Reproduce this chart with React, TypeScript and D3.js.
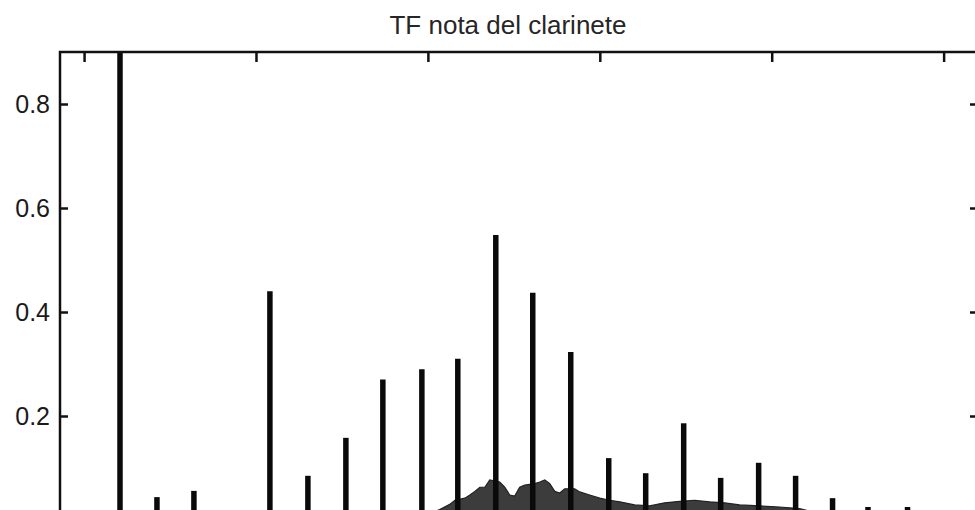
import React, { useRef, useEffect } from "react";
import * as d3 from "d3";

// peak frequencies (Hz) and magnitudes
const peakFreqs = [209, 424, 639, 1081, 1302, 1523, 1738, 1965, 2174, 2395, 2610, 2831, 3052, 3267, 3488, 3703, 3924, 4139, 4354, 4560, 4790, 5017];
const peakVals = [1.0, 0.044, 0.056, 0.44, 0.085, 0.158, 0.27, 0.29, 0.31, 0.548, 0.437, 0.323, 0.119, 0.09, 0.186, 0.081, 0.11, 0.085, 0.042, 0.025, 0.025, 0.014];

// noise floor between the harmonics
const noiseFreqs = [1900, 2000, 2069, 2127, 2157, 2215, 2244, 2273, 2302, 2331, 2360, 2418, 2447, 2476, 2505, 2534, 2563, 2622, 2651, 2680, 2709, 2738, 2767, 2796, 2854, 2883, 2941, 3000, 3058, 3116, 3203, 3290, 3377, 3465, 3552, 3639, 3726, 3814, 3930, 4046, 4162, 4279, 4395, 4500];
const noiseVals = [0.0, 0.012, 0.02, 0.03, 0.038, 0.042, 0.048, 0.055, 0.063, 0.063, 0.077, 0.073, 0.063, 0.048, 0.046, 0.063, 0.067, 0.07, 0.073, 0.077, 0.07, 0.055, 0.052, 0.06, 0.06, 0.054, 0.048, 0.042, 0.038, 0.035, 0.029, 0.027, 0.033, 0.036, 0.038, 0.035, 0.033, 0.029, 0.027, 0.025, 0.022, 0.012, 0.006, 0.0];

const xTicks = [0, 1000, 2000, 3000, 4000, 5000];
const yTicks = [0, 0.2, 0.4, 0.6, 0.8];
const yTickLabels = ["0", "0.2", "0.4", "0.6", "0.8"];

const App = () => {
  const svgRef = useRef<SVGSVGElement>(null);
  const W = 975;
  const H = 510;

  useEffect(() => {
    const svg = d3.select(svgRef.current);
    svg.selectAll("*").remove();

    const left = 60, right = 978, top = 52, bottom = 520;
    const x = d3.scaleLinear().domain([-140, 5200]).range([left, right]);
    const y = d3.scaleLinear().domain([0, 0.9]).range([bottom, top]);

    svg.append("defs").append("clipPath").attr("id", "plotclip")
      .append("rect").attr("x", left).attr("y", top)
      .attr("width", right - left).attr("height", bottom - top);

    const plot = svg.append("g").attr("clip-path", "url(#plotclip)");

    // noise floor
    const noise = noiseFreqs.map((f, i) => [f, noiseVals[i]] as [number, number]);
    const area = d3.area<[number, number]>()
      .x((d) => x(d[0]))
      .y0(y(0))
      .y1((d) => y(d[1]));
    plot.append("path").datum(noise)
      .attr("d", area)
      .attr("fill", "#3c3c3c")
      .attr("stroke", "#222")
      .attr("stroke-width", 1.2);

    // harmonic peaks
    plot.selectAll(".peak")
      .data(peakFreqs)
      .join("line")
      .attr("x1", (d) => x(d))
      .attr("x2", (d) => x(d))
      .attr("y1", y(0))
      .attr("y2", (d, i) => y(peakVals[i]))
      .attr("stroke", "#0a0a0a")
      .attr("stroke-width", 5.5);

    // axes
    const font = "'Liberation Sans', Arial, sans-serif";
    const topAxis = svg.append("g")
      .attr("transform", `translate(0,${top})`)
      .call(d3.axisTop(x).tickValues(xTicks).tickSize(-10).tickFormat(() => ""));
    const leftAxis = svg.append("g")
      .attr("transform", `translate(${left},0)`)
      .call(d3.axisLeft(y).tickValues(yTicks).tickSize(-8).tickPadding(10)
        .tickFormat((d, i) => yTickLabels[i]));
    const rightAxis = svg.append("g")
      .attr("transform", `translate(${right},0)`)
      .call(d3.axisRight(y).tickValues(yTicks).tickSize(-8).tickFormat(() => ""));

    [topAxis, leftAxis, rightAxis].forEach((g) => {
      g.select(".domain").remove();
      g.selectAll(".tick line").attr("stroke", "#111").attr("stroke-width", 2.5);
    });
    leftAxis.selectAll(".tick text")
      .attr("fill", "#1a1a1a")
      .style("font-family", font)
      .style("font-size", "25px");

    svg.append("rect")
      .attr("x", left).attr("y", top)
      .attr("width", right - left).attr("height", bottom - top)
      .attr("fill", "none")
      .attr("stroke", "#111")
      .attr("stroke-width", 2.5);

    svg.append("text")
      .attr("x", 508).attr("y", 34)
      .attr("text-anchor", "middle")
      .attr("fill", "#262626")
      .style("font-family", font)
      .style("font-size", "26px")
      .text("TF nota del clarinete");
  }, []);

  return (
    <div style={{ position: "absolute", left: 0, top: 0 }}>
      <svg ref={svgRef} width={W} height={H} style={{ display: "block", background: "#fff" }}></svg>
    </div>
  );
};

export default App;
